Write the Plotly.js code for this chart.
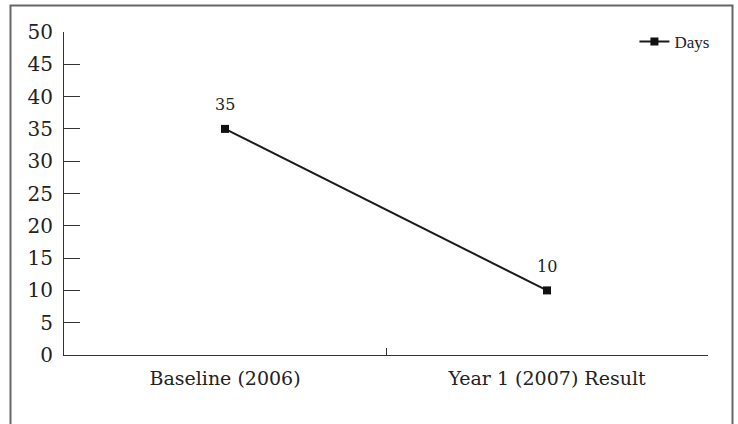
<!DOCTYPE html>
<html><head><meta charset="utf-8">
<script src="https://cdn.plot.ly/plotly-3.0.1.min.js"></script>
<style>body{margin:0;background:#fff}#c{width:738px;height:424px}</style>
</head><body><div id="c"></div>
<script>
const categories = ["Baseline (2006)", "Year 1 (2007) Result"];
const days = [35, 10];
const seriesName = "Days";
const yTicks = [0,5,10,15,20,25,30,35,40,45,50];

const F = "DejaVu Serif, serif";
const F2 = "Liberation Serif, serif";
const trace = {
  x: categories, y: days, name: seriesName, type: 'scatter',
  mode: 'lines+markers',
  line: {color: '#1a1a1a', width: 2},
  marker: {symbol: 'square', size: 8, color: '#111'},
  cliponaxis: false
};
const L = 64, R = 30, T = 32, B = 69, W = 738, H = 424;
const pw = W - L - R, ph = H - T - B;
const layout = {
  width: W, height: H,
  margin: {l: L, r: R, t: T, b: B, pad: 0},
  paper_bgcolor: '#fff', plot_bgcolor: '#fff',
  showlegend: true,
  font: {family: F, color: '#222'},
  xaxis: {
    type: 'category', range: [-0.5, 1.5], tickson: 'boundaries',
    ticks: 'inside', ticklen: 7, tickcolor: '#333', tickwidth: 1,
    showline: true, linecolor: '#333', linewidth: 1,
    showgrid: false, zeroline: false,
    tickfont: {family: F, size: 19, color: '#222'},
    ticklabelstandoff: 6
  },
  yaxis: {
    range: [0, 50], tickvals: yTicks, ticktext: yTicks.map(String),
    ticks: 'inside', ticklen: 16, tickcolor: '#333', tickwidth: 1,
    showline: true, linecolor: '#333', linewidth: 1,
    showgrid: false, zeroline: false,
    tickfont: {family: F, size: 20, color: '#222'},
    ticklabelstandoff: 6
  },
  legend: {
    x: 1.01, xanchor: 'right', y: 1.025, yanchor: 'top',
    bgcolor: 'rgba(0,0,0,0)', font: {family: F2, size: 17, color: '#222'}
  },
  annotations: days.map((v, i) => ({
    x: categories[i], y: v, xref: 'x', yref: 'y', text: String(v),
    showarrow: false, yshift: 24, font: {family: F, size: 16, color: '#222'}
  })),
  shapes: [{
    type: 'rect', xref: 'paper', yref: 'paper',
    x0: (10.5 - L) / pw, x1: (732.5 - L) / pw,
    y0: -0.4, y1: (H - B - 5.5) / ph,
    line: {color: '#666', width: 2}, fillcolor: 'rgba(0,0,0,0)', layer: 'below'
  }]
};
Plotly.newPlot('c', [trace], layout, {displayModeBar: false, staticPlot: true});
</script></body></html>
